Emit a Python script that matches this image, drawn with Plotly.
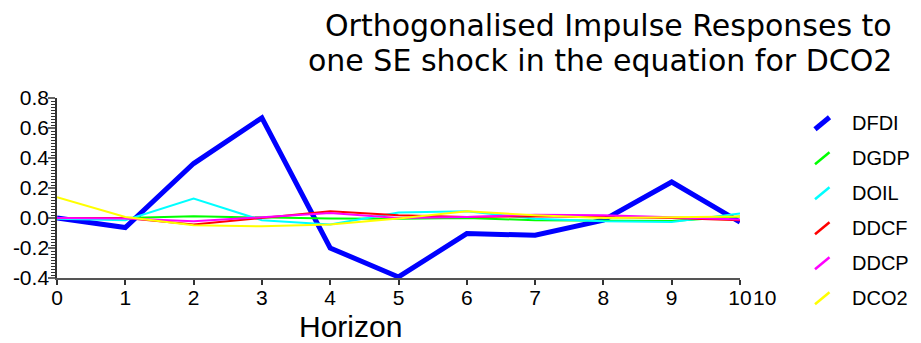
import plotly.graph_objects as go

horizon = [0, 1, 2, 3, 4, 5, 6, 7, 8, 9, 10]
series_names = ["DFDI", "DGDP", "DOIL", "DDCF", "DDCP", "DCO2"]
series_colors = ["#0000ff", "#00ff00", "#00ffff", "#ff0000", "#ff00ff", "#ffff00"]
series_widths = [5, 2, 2, 2, 2, 2]

dfdi = [0.0, -0.064, 0.363, 0.668, -0.200, -0.393, -0.104, -0.115, -0.015, 0.240, -0.027]
dgdp = [0.0, 0.0, 0.011, 0.002, -0.004, -0.005, 0.0, -0.015, -0.020, -0.020, 0.010]
doil = [-0.005, -0.015, 0.129, -0.015, -0.044, 0.036, 0.045, -0.005, -0.022, -0.027, 0.030]
ddcf = [0.0, 0.0, -0.044, 0.0, 0.045, 0.018, 0.007, 0.012, 0.007, 0.0, -0.015]
ddcp = [0.0, -0.003, -0.022, 0.007, 0.033, 0.0, 0.007, 0.022, 0.018, 0.005, -0.010]
dco2 = [0.138, 0.007, -0.049, -0.055, -0.044, -0.004, 0.045, 0.018, 0.0, 0.005, 0.010]
series_values = [dfdi, dgdp, doil, ddcf, ddcp, dco2]

x_tick_vals = [0, 1, 2, 3, 4, 5, 6, 7, 8, 9, 10]
y_tick_vals = [-0.4, -0.2, 0.0, 0.2, 0.4, 0.6, 0.8]
y_tick_text = ["-0.4", "-0.2", "0.0", "0.2", "0.4", "0.6", "0.8"]

title_lines = ["Orthogonalised Impulse Responses to", "one SE shock in the equation for DCO2"]
x_title = "Horizon"

OFF = 8  # page body margin
W, H = 921 - OFF, 343 - OFF
L, R, T, B = 49, 181, 90, 65
PW, PH = W - L - R, H - T - B
FONT = "Liberation Sans, Arial, sans-serif"
TITLE_FONT = "DejaVu Sans, Liberation Sans, sans-serif"


def px(x):
    return (x - OFF - L) / PW


def py(y):
    return (H - B - (y - OFF)) / PH


fig = go.Figure()
for name, color, width, vals in zip(series_names, series_colors, series_widths, series_values):
    fig.add_trace(go.Scatter(x=horizon, y=vals, mode="lines", name=name,
                             line=dict(color=color, width=width), showlegend=False))

annotations = []
shapes = []
# Title
annotations.append(dict(text=title_lines[0], xref="paper", yref="paper", x=px(894), y=py(25.5),
                        xanchor="right", yanchor="middle", showarrow=False,
                        font=dict(family=TITLE_FONT, size=30, color="#000")))
annotations.append(dict(text=title_lines[1], xref="paper", yref="paper", x=px(894), y=py(60.5),
                        xanchor="right", yanchor="middle", showarrow=False,
                        font=dict(family=TITLE_FONT, size=30, color="#000")))
# X title
annotations.append(dict(text=x_title, xref="paper", yref="paper", x=px(350), y=py(326),
                        xanchor="center", yanchor="middle", showarrow=False,
                        font=dict(family=FONT, size=30, color="#000")))
# duplicated end label
annotations.append(dict(text="10", xref="paper", yref="paper", x=px(764), y=py(297),
                        xanchor="center", yanchor="middle", showarrow=False,
                        font=dict(family=FONT, size=21, color="#000")))
# Custom legend
for i, (name, color, width) in enumerate(zip(series_names, series_colors, series_widths)):
    cy = 123.3 + i * 35
    shapes.append(dict(type="line", xref="paper", yref="paper",
                       x0=px(815), y0=py(cy + 6), x1=px(829.5), y1=py(cy - 6),
                       line=dict(color=color, width=width if i == 0 else 2.5)))
    annotations.append(dict(text=name, xref="paper", yref="paper", x=px(850), y=py(cy),
                            xanchor="left", yanchor="middle", showarrow=False,
                            font=dict(family=FONT, size=20, color="#000")))

fig.update_layout(
    width=W, height=H,
    margin=dict(l=L, r=R, t=T, b=B, pad=0, autoexpand=False),
    paper_bgcolor="white", plot_bgcolor="white",
    annotations=annotations, shapes=shapes,
    showlegend=False,
    font=dict(family=FONT, color="#000"),
)
fig.update_xaxes(range=[0, 10], tickvals=x_tick_vals, ticktext=[str(v) for v in x_tick_vals],
                 automargin=False,
                 showgrid=False, zeroline=False, showline=True, linecolor="#555", linewidth=1.5,
                 ticks="outside", ticklen=5, tickcolor="#333", tickwidth=1.5,
                 ticklabelstandoff=-5,
                 tickfont=dict(family=FONT, size=21, color="#000"))
fig.update_yaxes(range=[-0.4, 0.8], tickvals=y_tick_vals, ticktext=y_tick_text,
                 automargin=False,
                 showgrid=False, zeroline=False, showline=True, linecolor="#333", linewidth=1.5,
                 ticks="outside", ticklen=7, tickcolor="#666", tickwidth=1.5,
                 ticklabelstandoff=-5,
                 minor=dict(dtick=0.02, ticks="outside", ticklen=4, tickcolor="#333", tickwidth=1),
                 tickfont=dict(family=FONT, size=21, color="#000"))

fig.write_html("out.html")
